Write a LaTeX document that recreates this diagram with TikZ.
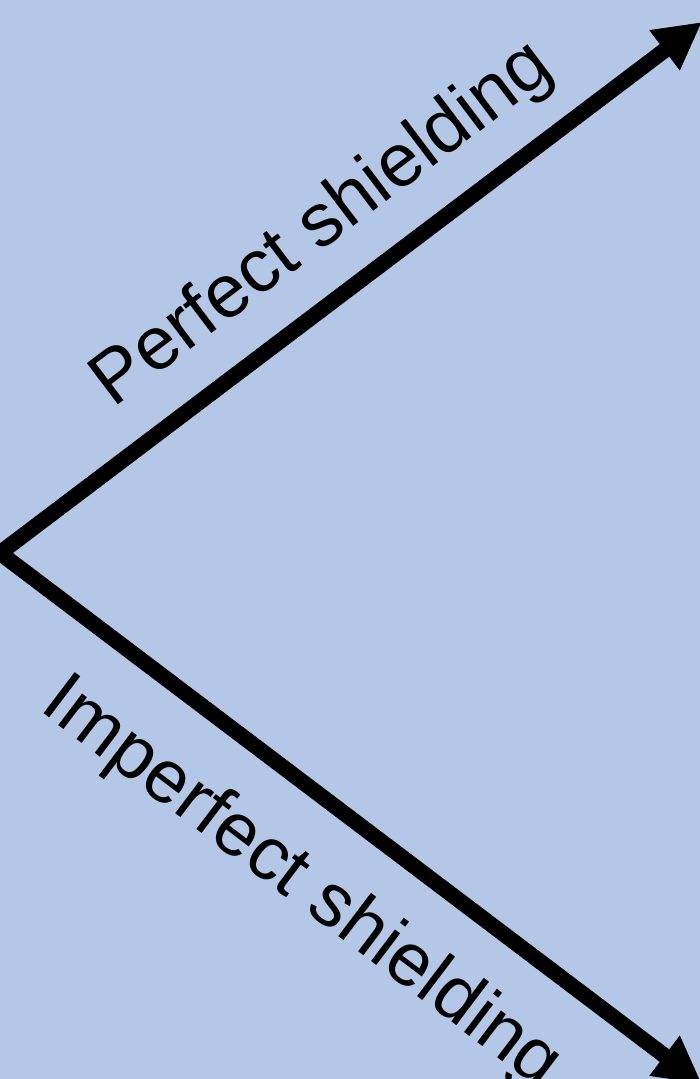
\documentclass[tikz,border=0pt]{standalone}
\usepackage{fontspec}
\setmainfont{Liberation Sans}
\usetikzlibrary{arrows.meta}
\definecolor{bgblue}{HTML}{B4C7E7}
\tikzset{
  bigarrow/.style={line width=15.6pt, line join=miter, draw=black,
    {Triangle[length=47pt,width=47pt]}-{Triangle[length=47pt,width=47pt]}},
  lbl/.style={inner sep=0pt, font=\fontsize{75pt}{82pt}\selectfont, text=black}
}
\begin{document}
\begin{tikzpicture}[x=1pt,y=-1pt]
  \useasboundingbox (0,0) rectangle (700,1079);
  \clip (0,0) rectangle (700,1079);
  \fill[bgblue] (0,0) rectangle (700,1079);
  \coordinate (v) at (0,553);
  \coordinate (top) at (702,22);
  \coordinate (bot) at (702,1084);
  \draw[bigarrow] (top) -- (v) -- (bot);
  \node[lbl, anchor=base west, rotate=37.1] (perfect) at (113.6,408.2) {Perfect shielding};
  \node[lbl, anchor=base west, rotate=-37.1] (imperfect) at (38.1,709.7) {Imperfect shielding};
\end{tikzpicture}
\end{document}
